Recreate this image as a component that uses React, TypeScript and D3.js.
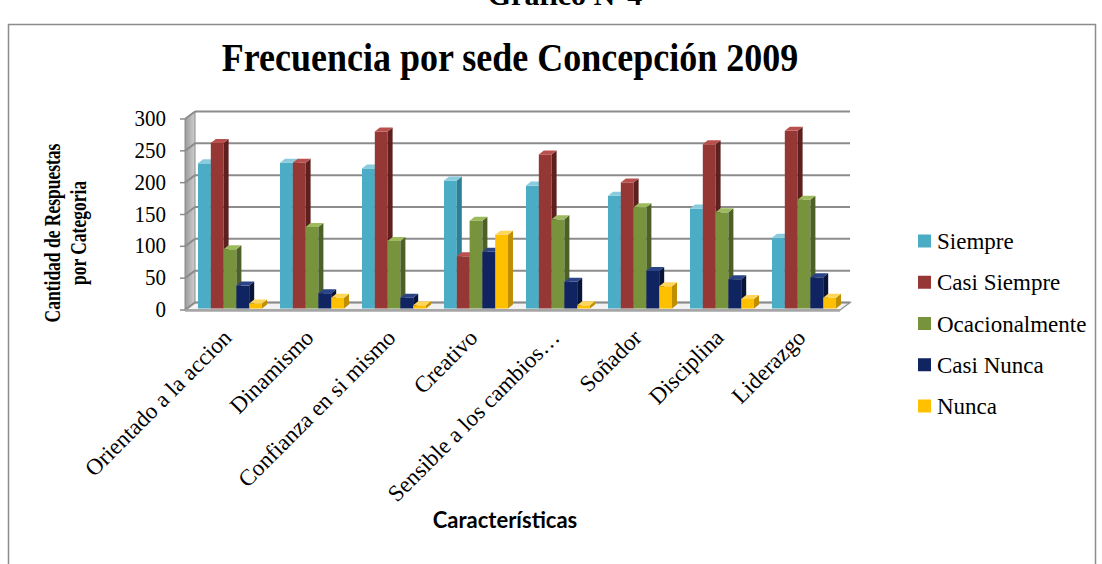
import * as d3 from 'd3';

// Frecuencia por sede Concepción 2009 — 3D clustered columns (Excel look)

const categories = [
  'Orientado a la accion',
  'Dinamismo',
  'Confianza en si mismo',
  'Creativo',
  'Sensible a los cambios…',
  'Soñador',
  'Disciplina',
  'Liderazgo',
];
const seriesNames = ['Siempre', 'Casi Siempre', 'Ocacionalmente', 'Casi Nunca', 'Nunca'];
const siempre = [228, 229, 220, 201, 193, 177, 157, 111];
const casiSiempre = [260, 229, 278, 82, 242, 198, 258, 279];
const ocacionalmente = [93, 128, 106, 138, 140, 159, 151, 171];
const casiNunca = [36, 24, 17, 89, 42, 59, 46, 49];
const nunca = [8, 17, 5, 116, 5, 35, 15, 17];
const yTicks = [0, 50, 100, 150, 200, 250, 300];

const seriesValues = [siempre, casiSiempre, ocacionalmente, casiNunca, nunca];

const FACE = ['#4BACC6', '#953735', '#77933C', '#0F2460', '#FFC000'];
const SIDE = ['#2E7F96', '#5E201F', '#4C6126', '#081538', '#BF8F00'];
const TOP = ['#8ACBDD', '#B9504D', '#9DBA5E', '#2B4488', '#FFD65C'];

const W = 1102;
const H = 564;

// wall depth (oblique projection)
const DX = 10;
const DY = -7.5;
// bars sit slightly behind the front plane
const BX = 2;
const BY = -1.5;
// bar depth
const BDX = 5;
const BDY = -4;

const serif = '"Liberation Serif", "Times New Roman", serif';

export default function App() {
  const y = d3.scaleLinear().domain([0, 300]).range([310, 119]);
  const x = d3
    .scaleBand<string>()
    .domain(categories)
    .range([187, 843])
    .paddingInner(0.22)
    .paddingOuter(0.11);
  const xs = d3
    .scaleBand<string>()
    .domain(seriesNames)
    .range([0, x.bandwidth()]);

  const left = 185;
  const right = 840;
  const y0 = y(0);
  const yTop = y(300);

  const pts = (p: number[][]) => p.map((d) => d.join(',')).join(' ');

  return (
    <svg
      width={W}
      height={H}
      style={{ position: 'absolute', left: 0, top: 0, background: '#fff' }}
      fontFamily={serif}
    >
      <defs>
        <linearGradient id="sidewall" x1="0" x2="1" y1="0" y2="0">
          <stop offset="0" stopColor="#9a9a9a" />
          <stop offset="1" stopColor="#cfcfcf" />
        </linearGradient>
      </defs>

      {/* header above the frame (cut off in the source too) */}
      <text x={565} y={5} textAnchor="middle" fontSize={30} fontWeight="bold">
        Gráfico N°4
      </text>

      {/* frame */}
      <rect x={8.5} y={24.5} width={1087} height={560} fill="none" stroke="#8c8c8c" strokeWidth={1.5} />

      {/* title */}
      <text
        transform="translate(510, 71) scale(1, 1.12)"
        textAnchor="middle"
        fontSize={36}
        fontWeight="bold"
      >
        Frecuencia por sede Concepción 2009
      </text>

      {/* left side wall */}
      <polygon
        points={pts([
          [left, yTop],
          [left + DX, yTop + DY],
          [left + DX, y0 + DY],
          [left, y0],
        ])}
        fill="url(#sidewall)"
        stroke="#8a8a8a"
        strokeWidth={1}
      />

      {/* floor */}
      <polygon
        points={pts([
          [left, y0],
          [left + DX, y0 + DY],
          [right + DX, y0 + DY],
          [right, y0],
        ])}
        fill="#f2f2f2"
        stroke="#9a9a9a"
        strokeWidth={1.5}
      />

      {/* gridlines: diagonal on side wall, horizontal on back wall */}
      {yTicks.map((t) => (
        <g key={t} stroke="#8c8c8c" strokeWidth={2} fill="none">
          <line x1={left} y1={y(t)} x2={left + DX} y2={y(t) + DY} />
          <line x1={left + DX} y1={y(t) + DY} x2={right + DX} y2={y(t) + DY} />
          <line x1={left - 5} y1={y(t)} x2={left} y2={y(t)} strokeWidth={1.5} />
        </g>
      ))}

      {/* floor front edge */}
      <line x1={left} y1={y0 + 0.5} x2={right} y2={y0 + 0.5} stroke="#a6a6a6" strokeWidth={2.5} />

      {/* y tick labels */}
      {yTicks.map((t) => (
        <text
          key={t}
          transform={`translate(166, ${y(t) + 7}) scale(1, 1.08)`}
          textAnchor="end"
          fontSize={21}
        >
          {t}
        </text>
      ))}

      {/* bars */}
      {categories.map((c, ci) => (
        <g key={c}>
          {seriesNames.map((s, si) => {
            const v = seriesValues[si][ci];
            const bx = (x(c) as number) + (xs(s) as number) + BX;
            const bw = xs.bandwidth();
            const top = y(v) + BY;
            const base = y0 + BY;
            return (
              <g key={s}>
                <rect x={bx} y={top} width={bw} height={base - top} fill={FACE[si]} />
                <polygon
                  points={pts([
                    [bx + bw, top],
                    [bx + bw + BDX, top + BDY],
                    [bx + bw + BDX, base + BDY],
                    [bx + bw, base],
                  ])}
                  fill={SIDE[si]}
                />
                <polygon
                  points={pts([
                    [bx, top],
                    [bx + BDX, top + BDY],
                    [bx + bw + BDX, top + BDY],
                    [bx + bw, top],
                  ])}
                  fill={TOP[si]}
                />
              </g>
            );
          })}
        </g>
      ))}

      {/* x category labels */}
      {categories.map((c) => {
        const cx = (x(c) as number) + x.bandwidth() / 2 + 5;
        const cy = 339;
        return (
          <text
            key={c}
            x={cx}
            y={cy}
            textAnchor="end"
            fontSize={23}
            transform={`rotate(-45, ${cx}, ${cy})`}
          >
            {c}
          </text>
        );
      })}

      {/* y axis title */}
      <text
        transform="translate(60, 233) rotate(-90) scale(1, 1.3)"
        textAnchor="middle"
        fontSize={17.5}
        fontWeight="bold"
      >
        Cantidad de Respuestas
      </text>
      <text
        transform="translate(86, 233) rotate(-90) scale(1, 1.3)"
        textAnchor="middle"
        fontSize={17.5}
        fontWeight="bold"
      >
        por Categoria
      </text>

      {/* x axis title */}
      <text
        x={505}
        y={528}
        textAnchor="middle"
        fontSize={22}
        fontWeight="bold"
        fontFamily="Lato, 'Open Sans', sans-serif"
      >
        Características
      </text>

      {/* legend */}
      {seriesNames.map((s, i) => {
        const cy = 241 + i * 41.25;
        return (
          <g key={s}>
            <rect x={918} y={cy - 6.5} width={13} height={13} fill={FACE[i]} />
            <text x={937} y={cy + 8} fontSize={23}>
              {s}
            </text>
          </g>
        );
      })}
    </svg>
  );
}
